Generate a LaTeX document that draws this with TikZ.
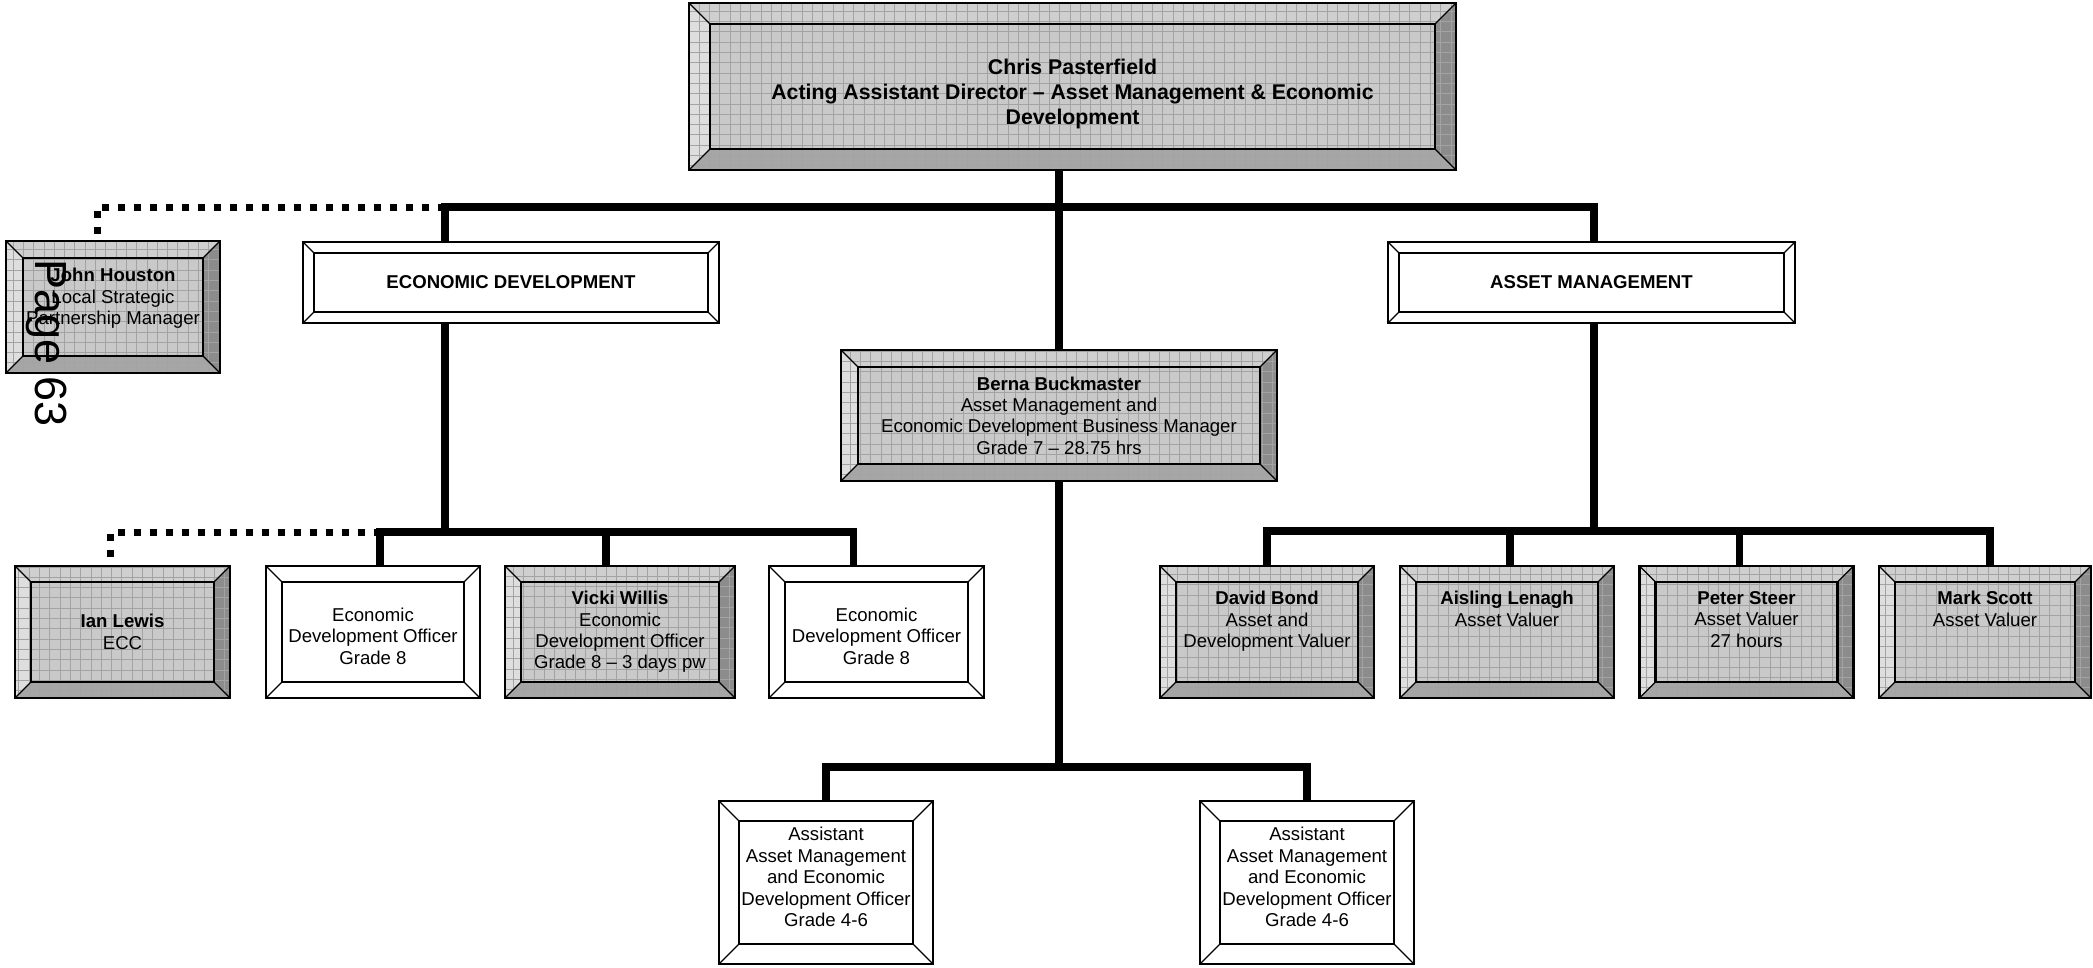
\documentclass[tikz,border=0pt]{standalone}
\usepackage{fontspec}
\setmainfont{Liberation Sans}
\usepackage{xcolor}
\usepackage{tikz}

\colorlet{face}{black!21}
\newcommand\boxfont{\fontsize{18.6}{21.4}\selectfont}
\newcommand\bossfont{\fontsize{21.3}{25}\selectfont\bfseries}
\newcommand\toplines[2]{\parbox[c][#1][t]{200pt}{\centering #2}}

\tikzset{
	bw/.code={\def\bw{#1}},
	bw=16,
	bvtop/.style={fill=white}, bvleft/.style={fill=white},
	bvright/.style={fill=white}, bvbottom/.style={fill=white},
	gridline/.style={draw=none},
	bevelled/.style={draw=black, line width=2.2pt, align=center, inner sep=0pt, font=\boxfont,
		path picture={
			\path (path picture bounding box.south west) coordinate (p1)
				(path picture bounding box.north east) coordinate (p3);
			\path ([shift={(\bw pt,\bw pt)}]p1) coordinate (q1)
				([shift={(-\bw pt,-\bw pt)}]p3) coordinate (q3);
			\fill[bvleft] (p1) -- (q1) -- (q1 |- q3) -- (p1 |- p3) -- cycle;
			\fill[bvright] (p3 |- p1) -- (q3 |- q1) -- (q3) -- (p3) -- cycle;
			\fill[bvbottom] (p1) -- (p3 |- p1) -- (q3 |- q1) -- (q1) -- cycle;
			\fill[bvtop] (p1 |- p3) -- (p3) -- (q3) -- (q1 |- q3) -- cycle;
			\draw[gridline, step=10.3pt] (p1) grid (p3);
			\draw[line width=2.2pt] (q1) rectangle (q3);
			\draw[line width=1.3pt] (p1) -- (q1) (p3) -- (q3) (p1 |- p3) -- (q1 |- q3) (p3 |- p1) -- (q3 |- q1);
		}},
	greybox/.style={bevelled, fill=face,
		bvtop/.style={fill=black!19}, bvleft/.style={fill=black!13},
		bvright/.style={fill=black!45}, bvbottom/.style={fill=black!35},
		gridline/.style={draw=black!36, line width=0.8pt}},
	whitebox/.style={bevelled, fill=white},
	link/.style={line width=7.5pt},
	dotlink/.style={line width=7pt, dash pattern=on 7pt off 9pt}
}

\begin{document}
\begin{tikzpicture}[x=1pt, y=-1pt]
	\useasboundingbox (0,0) rectangle (2093,967);

	\node[greybox, bw=21, minimum width=767pt, minimum height=167pt, font=\bossfont, text height=80pt, text depth=4pt] (chris) at (1072.5,86.5)
	{Chris Pasterfield\\Acting Assistant Director – Asset Management \& Economic\\Development};

	\node[greybox, bw=17, minimum width=214pt, minimum height=132pt] (john) at (113,307)
	{\toplines{77pt}{\textbf{John Houston}\\Local Strategic\\Partnership Manager}};

	\node[whitebox, bw=11, minimum width=416pt, minimum height=81pt] (ed) at (511,282.5)
	{\textbf{ECONOMIC DEVELOPMENT}};
	\node[whitebox, bw=11, minimum width=407pt, minimum height=81pt] (am) at (1591.5,282.5)
	{\textbf{ASSET MANAGEMENT}};

	\node[greybox, bw=17, minimum width=436pt, minimum height=131pt] (berna) at (1059,415.5)
	{\textbf{Berna Buckmaster}\\Asset Management and\\Economic Development Business Manager\\Grade 7 – 28.75 hrs};

	\node[greybox, minimum width=215pt, minimum height=132pt] (ian) at (122.5,632)
	{\textbf{Ian Lewis}\\ECC};
	\node[whitebox, minimum width=214pt, minimum height=132pt, text height=64pt, text depth=0pt] (eo1) at (373,632)
	{Economic\\Development Officer\\Grade 8};
	\node[greybox, minimum width=230pt, minimum height=132pt] (vicki) at (620,632)
	{\textbf{Vicki Willis}\\Economic\\Development Officer\\Grade 8 – 3 days pw};
	\node[whitebox, minimum width=215pt, minimum height=132pt, text height=64pt, text depth=0pt] (eo2) at (876.5,632)
	{Economic\\Development Officer\\Grade 8};

	\node[greybox, minimum width=214pt, minimum height=132pt] (david) at (1267,632)
	{\toplines{81pt}{\textbf{David Bond}\\Asset and\\Development Valuer}};
	\node[greybox, minimum width=214pt, minimum height=132pt] (aisling) at (1507,632)
	{\toplines{81pt}{\textbf{Aisling Lenagh}\\Asset Valuer}};
	\node[greybox, minimum width=214pt, minimum height=132pt] (peter) at (1746.5,632)
	{\toplines{81pt}{\textbf{Peter Steer}\\Asset Valuer\\27 hours}};
	\node[greybox, minimum width=212pt, minimum height=132pt] (mark) at (1985,632)
	{\toplines{81pt}{\textbf{Mark Scott}\\Asset Valuer}};

	\node[whitebox, bw=20, minimum width=214pt, minimum height=163pt, text depth=11pt] (asst1) at (826,882.5)
	{Assistant\\Asset Management\\and Economic\\Development Officer\\Grade 4-6};
	\node[whitebox, bw=20, minimum width=214pt, minimum height=163pt, text depth=11pt] (asst2) at (1307,882.5)
	{Assistant\\Asset Management\\and Economic\\Development Officer\\Grade 4-6};

	\coordinate (topj) at (1059,207);
	\coordinate (edj) at (445,532);
	\coordinate (amj) at (1594,531);
	\coordinate (bj) at (1059,767);
	\coordinate (edup) at ([xshift=-66pt]ed.north);
	\coordinate (eddown) at ([xshift=-66pt]ed.south);

	\draw[link] (chris.south -| berna.north) -- (berna.north);
	\draw[link] (edup) |- (topj) -| ([xshift=2.5pt]am.north);
	\draw[dotlink] (edup |- topj) -| ([xshift=-16pt]john.north);

	\draw[link] (eddown) -- (edj);
	\draw[link] ([xshift=7pt]eo1.north) |- (edj) -| ([xshift=-23pt]eo2.north);
	\draw[link] ([xshift=-14pt]vicki.north) |- (edj);
	\draw[dotlink] (edj) -| ([xshift=-12pt]ian.north);

	\draw[link] ([xshift=2.5pt]am.south) -- (amj);
	\draw[link] (david.north) |- (amj) -| ([xshift=5pt]mark.north);
	\draw[link] ([xshift=3pt]aisling.north) |- (amj);
	\draw[link] ([xshift=-7pt]peter.north) |- (amj);

	\draw[link] (berna.south) -- (bj);
	\draw[link] (asst1.north) |- (bj) -| (asst2.north);

	\node[rotate=-90, inner sep=0pt, font=\fontsize{45}{54}\selectfont] (pagenum) at (47,343) {Page 63};
\end{tikzpicture}
\end{document}
